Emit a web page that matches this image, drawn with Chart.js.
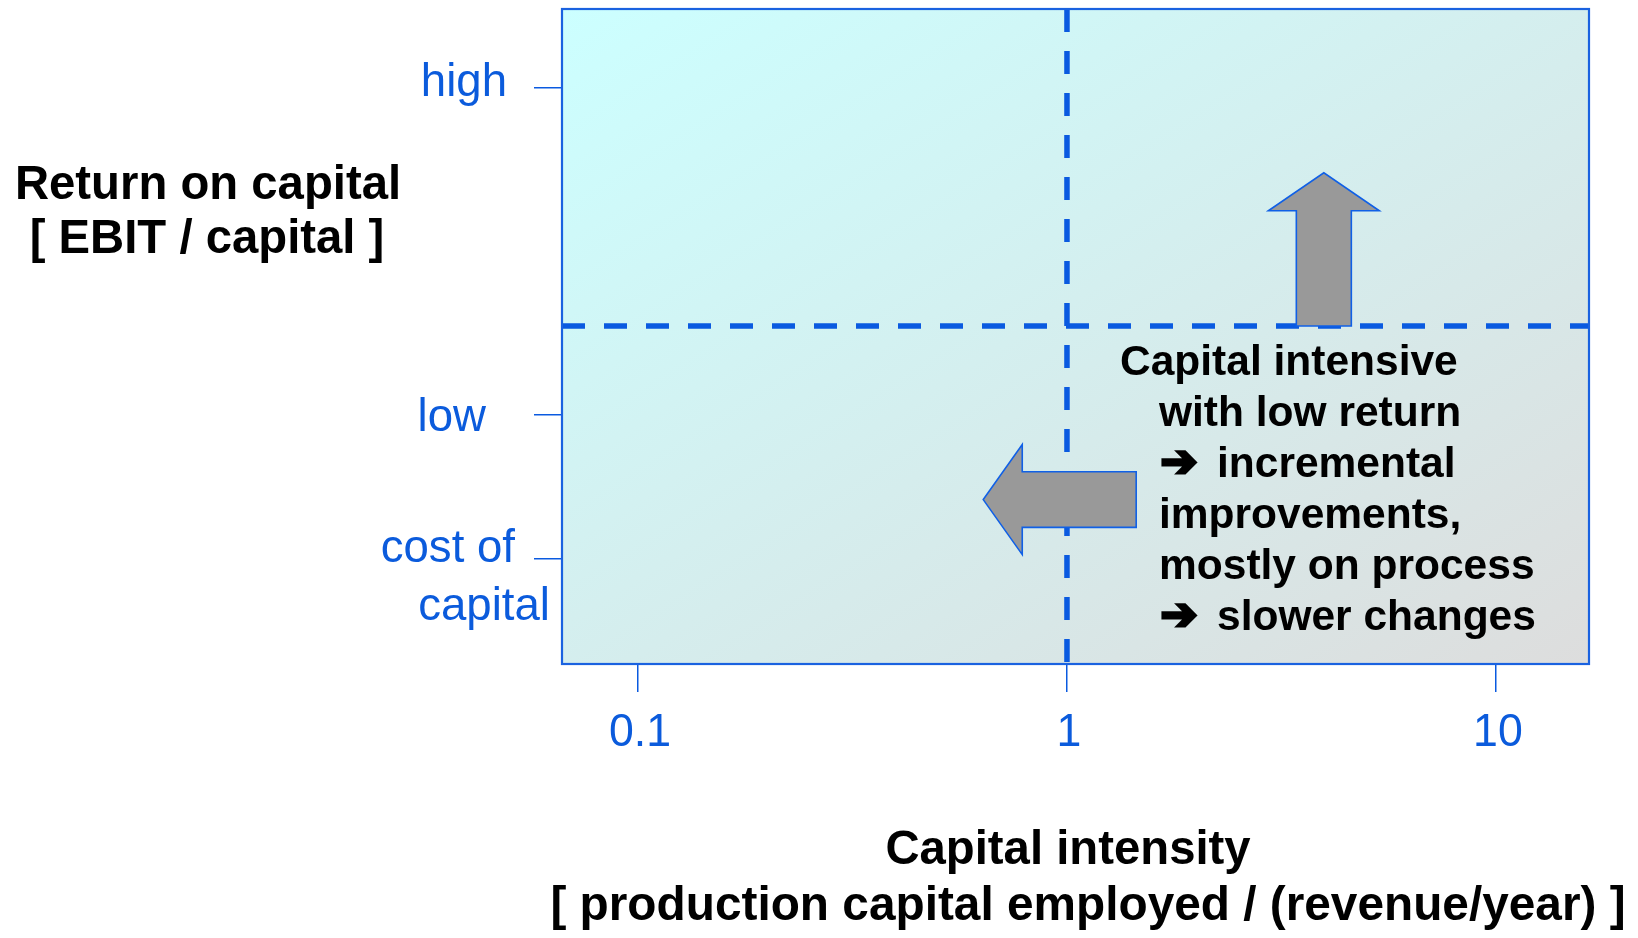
<!DOCTYPE html>
<html><head><meta charset="utf-8">
<script src="https://cdn.jsdelivr.net/npm/chart.js@4.4.1/dist/chart.umd.min.js"></script>
<style>html,body{margin:0;padding:0;background:#fff;overflow:hidden}canvas{display:block}</style>
</head><body>
<canvas id="c" width="1638" height="938"></canvas>
<script>
// ---- data ----
const xTickValues = [0.1, 1, 10];
const xTickLabels = ['0.1', '1', '10'];
const xRange = [0.0665, 16.48];
const yTickValues = [16, 38, 88];
const yTickLabels = [['cost of', 'capital'], ['low'], ['high']];
const yRange = [0, 100];
const xThreshold = 1;
const yThreshold = 51.6;
const upArrow = { x: 3.97, yFrom: 51.6, yTo: 75 };
const leftArrow = { y: 25.1, xFrom: 1.45, xTo: 0.638 };
const xTitle = ['Capital intensity', '[ production capital employed / (revenue/year) ]'];
const yTitle = ['Return on capital', '[ EBIT / capital ]'];
const noteLines = ['Capital intensive', 'with low return', '\u2794 incremental', 'improvements,', 'mostly on process', '\u2794 slower changes'];

// ---- styles ----
const BLUE = '#0b5bdc';
const LINE_BLUE = '#0a5ae0';
const FONT = "'Liberation Sans', Arial, 'DejaVu Sans', sans-serif";
const yLabelStyle = [
  { right: [515, 550], dy: [3, 61] },
  { right: [486], dy: [15.5] },
  { right: [507], dy: [8] }
];
const noteStyle = { dx: 558, baseline0: 375, step: 51, indent: [0, 39, 39, 39, 39, 39] };

function txt(ctx, s, x, y, align, font, color, sx) {
  ctx.save();
  ctx.translate(x, y);
  ctx.scale(sx, 1);
  ctx.font = font;
  ctx.fillStyle = color;
  ctx.textAlign = align;
  ctx.textBaseline = 'alphabetic';
  ctx.fillText(s, 0, 0);
  ctx.restore();
}

function heavyArrowGlyph(ctx, ch, x, baseline) {
  ctx.save();
  ctx.font = "bold 44px 'DejaVu Sans', sans-serif";
  const m = ctx.measureText(ch);
  const sx = 37 / Math.max(1, m.width);
  ctx.translate(x + 1.5, baseline);
  ctx.scale(sx, 1);
  ctx.textAlign = 'left';
  ctx.textBaseline = 'alphabetic';
  ctx.fillStyle = '#000';
  ctx.strokeStyle = '#000';
  ctx.lineWidth = 3.2;
  ctx.lineJoin = 'miter';
  ctx.fillText(ch, 0, 0);
  ctx.strokeText(ch, 0, 0);
  ctx.restore();
}

const decor = {
  id: 'decor',
  beforeDraw(chart) {
    const { ctx, chartArea: a } = chart;
    const w = a.right - a.left, h = a.bottom - a.top;
    const k = 2 * w * h / (w * w + h * h);
    const g = ctx.createLinearGradient(a.left, a.top, a.left + h * k, a.top + w * k);
    g.addColorStop(0, '#ccffff');
    g.addColorStop(1, '#dddddd');
    ctx.save();
    ctx.fillStyle = g;
    ctx.fillRect(a.left, a.top, w, h);
    ctx.restore();
  },
  afterDatasetsDraw(chart) {
    const { ctx, scales: { x, y } } = chart;
    ctx.save();
    ctx.fillStyle = '#999999';
    ctx.strokeStyle = '#1060e6';
    ctx.lineWidth = 1.6;
    ctx.lineJoin = 'miter';
    // up arrow
    const cx = x.getPixelForValue(upArrow.x);
    const yb = y.getPixelForValue(upArrow.yFrom);
    const yt = y.getPixelForValue(upArrow.yTo);
    const sw = 27.5, hw = 55.5, hl = 38;
    ctx.beginPath();
    ctx.moveTo(cx - sw, yb);
    ctx.lineTo(cx - sw, yt + hl);
    ctx.lineTo(cx - hw, yt + hl);
    ctx.lineTo(cx, yt);
    ctx.lineTo(cx + hw, yt + hl);
    ctx.lineTo(cx + sw, yt + hl);
    ctx.lineTo(cx + sw, yb);
    ctx.closePath();
    ctx.fill(); ctx.stroke();
    // left arrow
    const cy = y.getPixelForValue(leftArrow.y);
    const xt = x.getPixelForValue(leftArrow.xTo);
    const xr = x.getPixelForValue(leftArrow.xFrom);
    const sh = 27.8, hh = 55, hl2 = 39;
    ctx.beginPath();
    ctx.moveTo(xr, cy - sh);
    ctx.lineTo(xt + hl2, cy - sh);
    ctx.lineTo(xt + hl2, cy - hh);
    ctx.lineTo(xt, cy);
    ctx.lineTo(xt + hl2, cy + hh);
    ctx.lineTo(xt + hl2, cy + sh);
    ctx.lineTo(xr, cy + sh);
    ctx.closePath();
    ctx.fill(); ctx.stroke();
    ctx.restore();
  },
  afterDraw(chart) {
    const { ctx, chartArea: a, scales: { x, y } } = chart;
    // frame
    ctx.save();
    ctx.strokeStyle = '#1a62e0';
    ctx.lineWidth = 2.2;
    ctx.strokeRect(a.left, a.top, a.right - a.left, a.bottom - a.top);
    ctx.restore();
    // x tick labels
    x.ticks.forEach((t, i) => {
      const px = x.getPixelForValue(t.value);
      txt(ctx, xTickLabels[i], px + 2, 746, 'center', '47px ' + FONT, BLUE, 0.95);
    });
    // y tick labels
    y.ticks.forEach((t, i) => {
      const py = y.getPixelForValue(t.value);
      const st = yLabelStyle[i];
      yTickLabels[i].forEach((line, j) => {
        txt(ctx, line, st.right[j], py + st.dy[j], 'right', '47px ' + FONT, BLUE, 0.97);
      });
    });
    // axis titles
    const tf = 'bold 49px ' + FONT;
    txt(ctx, yTitle[0], 208, 199, 'center', tf, '#000', 0.965);
    txt(ctx, yTitle[1], 207, 253, 'center', tf, '#000', 0.965);
    txt(ctx, xTitle[0], 1068, 864, 'center', tf, '#000', 0.965);
    txt(ctx, xTitle[1], 1088, 920, 'center', tf, '#000', 0.975);
    // note
    const nf = 'bold 42.5px ' + FONT;
    noteLines.forEach((s, i) => {
      const lx = a.left + noteStyle.dx + noteStyle.indent[i];
      const by = noteStyle.baseline0 + i * noteStyle.step;
      if (s.charAt(0) === '\u2794') {
        heavyArrowGlyph(ctx, s.charAt(0), lx, by - 1);
        txt(ctx, s.slice(1).trim(), lx + 58, by, 'left', nf, '#000', 1.0);
      } else {
        txt(ctx, s, lx, by, 'left', nf, '#000', 1.0);
      }
    });
  }
};

const dash = { borderColor: LINE_BLUE, borderWidth: 5.5, borderDash: [23, 19], pointRadius: 0, showLine: true, fill: false, borderCapStyle: 'butt' };

new Chart(document.getElementById('c'), {
  type: 'scatter',
  data: {
    datasets: [
      Object.assign({ label: 'capital threshold', data: [{ x: xThreshold, y: yRange[1] }, { x: xThreshold, y: yRange[0] }] }, dash),
      Object.assign({ label: 'return threshold', data: [{ x: xRange[0], y: yThreshold }, { x: xRange[1], y: yThreshold }] }, dash)
    ]
  },
  options: {
    responsive: false,
    animation: false,
    devicePixelRatio: 1,
    layout: { padding: { left: 0, top: 9, right: 49, bottom: 0 } },
    plugins: { legend: { display: false }, tooltip: { enabled: false }, title: { display: false } },
    scales: {
      x: {
        type: 'logarithmic', position: 'bottom', min: xRange[0], max: xRange[1],
        afterBuildTicks: s => { s.ticks = xTickValues.map(v => ({ value: v })); },
        afterFit: s => { s.height = 274; },
        ticks: { display: false },
        grid: { display: true, drawOnChartArea: false, drawTicks: true, tickLength: 28, color: LINE_BLUE, lineWidth: 1.5 },
        border: { display: false }
      },
      y: {
        type: 'linear', position: 'left', min: yRange[0], max: yRange[1],
        afterBuildTicks: s => { s.ticks = yTickValues.map(v => ({ value: v })); },
        afterFit: s => { s.width = 562; },
        ticks: { display: false },
        grid: { display: true, drawOnChartArea: false, drawTicks: true, tickLength: 28, color: LINE_BLUE, lineWidth: 1.5 },
        border: { display: false }
      }
    }
  },
  plugins: [decor]
});
</script>
</body></html>
